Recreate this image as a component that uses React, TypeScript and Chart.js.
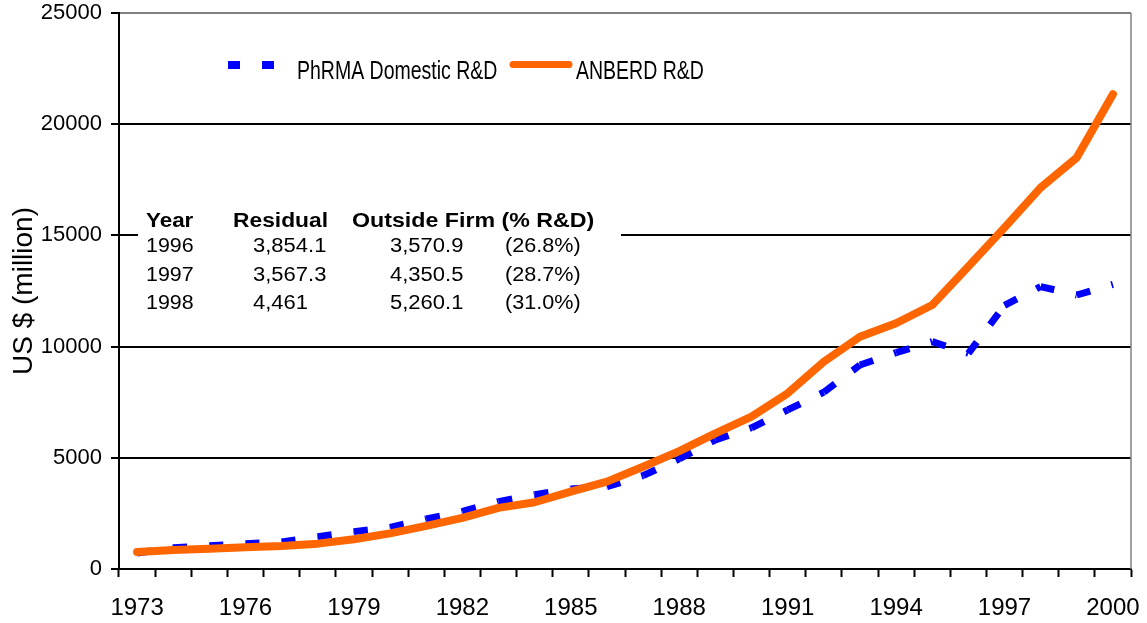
import React, { useEffect, useRef } from "react";
import { Chart, registerables } from "chart.js";

Chart.register(...registerables);

const years = ["1973","1974","1975","1976","1977","1978","1979","1980","1981","1982","1983","1984","1985","1986","1987","1988","1989","1990","1991","1992","1993","1994","1995","1996","1997","1998","1999","2000"];
const phrmaDomestic = [720, 960, 1050, 1140, 1215, 1450, 1680, 1870, 2250, 2590, 3030, 3340, 3600, 3700, 4200, 4950, 5800, 6350, 7150, 7950, 9170, 9730, 10220, 9700, 11850, 12700, 12320, 12800];
const anberd = [765, 855, 915, 975, 1035, 1140, 1335, 1600, 1940, 2300, 2750, 3000, 3480, 3930, 4600, 5300, 6100, 6850, 7900, 9320, 10440, 11050, 11870, 13600, 15350, 17150, 18500, 21350];
const yTicks = [0, 5000, 10000, 15000, 20000, 25000];
const seriesLabels = ["PhRMA Domestic R&D", "ANBERD R&D"];
const tableHeader = ["Year", "Residual", "Outside Firm (% R&D)"];
const tableYears = ["1996", "1997", "1998"];
const tableResidual = ["3,854.1", "3,567.3", "4,461"];
const tableOutside = ["3,570.9", "4,350.5", "5,260.1"];
const tableShare = ["(26.8%)", "(28.7%)", "(31.0%)"];

const BLUE = "#0000ff";
const ORANGE = "#ff6600";
const SANS = "'Liberation Sans', Arial, sans-serif";

const overlayPlugin = {
  id: "overlay",
  beforeDatasetsDraw(chart: any) {
    const ctx = chart.ctx;
    const a = chart.chartArea;
    ctx.save();
    ctx.strokeStyle = "#808080";
    ctx.lineWidth = 1.5;
    ctx.beginPath();
    ctx.moveTo(a.right, a.top);
    ctx.lineTo(a.right, a.bottom);
    ctx.stroke();
    ctx.fillStyle = "#ffffff";
    ctx.fillRect(138, 200, 483, 122);
    ctx.fillStyle = "#000000";
    ctx.textBaseline = "alphabetic";
    const drawStretched = (txt: string, x: number, y: number, font: string, sx: number) => {
      ctx.save();
      ctx.font = font;
      ctx.translate(x, y);
      ctx.scale(sx, 1);
      ctx.fillText(txt, 0, 0);
      ctx.restore();
    };
    const bold = "bold 20px " + SANS;
    const reg = "20px " + SANS;
    drawStretched(tableHeader[0], 146, 227, bold, 1.12);
    drawStretched(tableHeader[1], 233, 227, bold, 1.14);
    drawStretched(tableHeader[2], 352, 227, bold, 1.16);
    for (let i = 0; i < tableYears.length; i++) {
      const y = 252 + i * 28.7;
      drawStretched(tableYears[i], 146, y, reg, 1.07);
      drawStretched(tableResidual[i], 253, y, reg, 1.1);
      drawStretched(tableOutside[i], 390, y, reg, 1.1);
      drawStretched(tableShare[i], 505, y, reg, 1.08);
    }
    ctx.restore();
  },
  afterDraw(chart: any) {
    const ctx = chart.ctx;
    ctx.save();
    ctx.fillStyle = BLUE;
    ctx.fillRect(228, 61, 12, 8);
    ctx.fillRect(262, 61, 12, 8);
    ctx.strokeStyle = ORANGE;
    ctx.lineWidth = 7;
    ctx.lineCap = "round";
    ctx.beginPath();
    ctx.moveTo(513, 64.5);
    ctx.lineTo(569, 64.5);
    ctx.stroke();
    ctx.fillStyle = "#000000";
    ctx.textBaseline = "alphabetic";
    const drawStretchedV = (txt: string, x: number, y: number) => {
      ctx.save();
      ctx.font = "25px " + SANS;
      ctx.translate(x, y);
      ctx.scale(0.78, 1);
      ctx.fillText(txt, 0, 0);
      ctx.restore();
    };
    drawStretchedV(seriesLabels[0], 297, 79);
    drawStretchedV(seriesLabels[1], 576, 79);
    ctx.restore();
  },
};

export default function App() {
  const ref = useRef<HTMLCanvasElement | null>(null);
  useEffect(() => {
    if (!ref.current) return;
    const chart = new Chart(ref.current, {
      type: "line",
      data: {
        labels: years,
        datasets: [
          {
            label: seriesLabels[0],
            data: phrmaDomestic,
            borderColor: BLUE,
            backgroundColor: BLUE,
            borderWidth: 7,
            borderDash: [14, 22],
            borderCapStyle: "butt",
            pointRadius: 0,
            tension: 0,
            order: 1,
            segment: {
              borderDashOffset: (c: any) => (c.p0DataIndex % 2 ? 0.0001 : 0),
            },
          } as any,
          {
            label: seriesLabels[1],
            data: anberd,
            borderColor: ORANGE,
            backgroundColor: ORANGE,
            borderWidth: 8,
            borderCapStyle: "round",
            borderJoinStyle: "round",
            pointRadius: 0,
            tension: 0,
            order: 0,
          } as any,
        ],
      },
      options: {
        animation: false,
        responsive: true,
        maintainAspectRatio: false,
        layout: { padding: { top: 13, right: 16, left: 0, bottom: 0 } },
        plugins: {
          legend: { display: false },
          tooltip: { enabled: false },
        },
        scales: {
          x: {
            type: "category",
            offset: true,
            grid: {
              offset: true,
              drawOnChartArea: false,
              drawTicks: true,
              tickLength: 8,
              tickColor: "#000000",
              tickWidth: 2,
            },
            border: { color: "#000000", width: 2 },
            ticks: {
              autoSkip: false,
              maxRotation: 0,
              minRotation: 0,
              padding: 17,
              color: "#000000",
              font: { family: SANS, size: 24 },
              callback: (_v: any, i: number) => ((i % 3 === 0) ? years[i] : ""),
            },
            afterFit: (s: any) => { s.height = 54; s.paddingLeft = 0; s.paddingRight = 0; },
          },
          y: {
            min: 0,
            max: 25000,
            afterBuildTicks: (s: any) => { s.ticks = yTicks.map((v) => ({ value: v })); },
            grid: {
              color: (c: any) => (c.tick && c.tick.value === 25000 ? "#808080" : "#000000"),
              lineWidth: 2,
              tickLength: 8,
              tickColor: "#000000",
              tickWidth: 2,
            },
            border: { color: "#000000", width: 2 },
            ticks: {
              padding: 9,
              color: "#000000",
              font: { family: SANS, size: 22, lineHeight: 1 },
              callback: (v: any) => String(v),
            },
            title: {
              display: true,
              text: "US $ (million)",
              color: "#000000",
              font: { family: SANS, size: 28 },
              padding: { top: 7, bottom: 0 },
            },
            afterFit: (s: any) => { s.width = 119; s.paddingTop = 0; s.paddingBottom = 0; },
          },
        },
      },
      plugins: [overlayPlugin],
    });
    return () => chart.destroy();
  }, []);
  return (
    <div style={{ position: "fixed", left: 0, top: 0, width: 1147, height: 623, background: "#fff" }}>
      <canvas ref={ref} />
    </div>
  );
}
